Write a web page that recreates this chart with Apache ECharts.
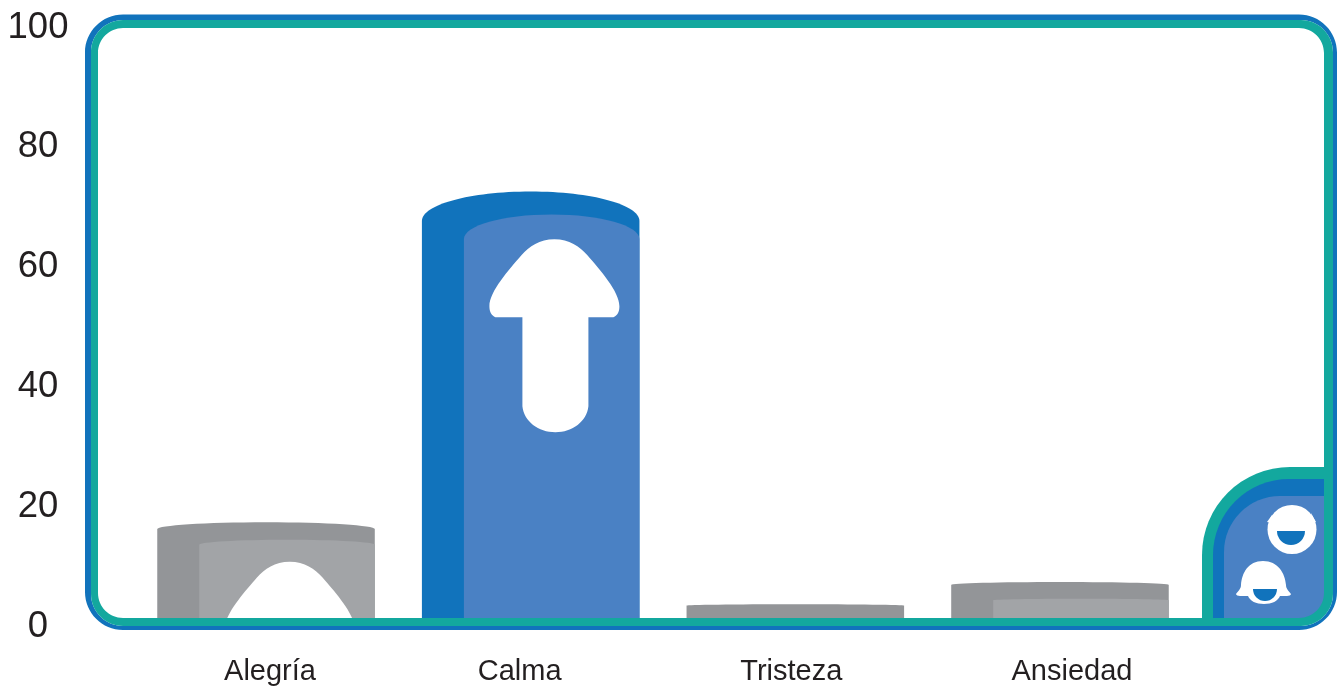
<!DOCTYPE html>
<html>
<head>
<meta charset="utf-8">
<title>Emociones</title>
<style>
html, body { margin: 0; padding: 0; background: #fff; }
#chart { width: 1340px; height: 688px; }
</style>
<script src="https://cdn.jsdelivr.net/npm/echarts@6/dist/echarts.min.js"></script>
</head>
<body>
<div id="chart"></div>
<script>
var categories = ['Alegría', 'Calma', 'Tristeza', 'Ansiedad'];
var values = [17, 72.2, 3.3, 7];
var yTicks = [0, 20, 40, 60, 80, 100];
var highlighted = 'Calma';

// the category labels do not sit under the middle of their bars in the original
var labelShift = [4, -11, -4, 12];

var BLUE = '#1173BC', BLUE_LIGHT = '#4A81C4';
var GREY = '#939598', GREY_LIGHT = '#A2A4A7';
var GREEN = '#13A89E';
var TEXT = '#231F20';
var FONT = '"Liberation Sans", Arial, sans-serif';

var ARROW = 'M65 0C50 0 40 7 32 16C20 30 0 52 0 67C0 73 2 76 6 78L33 78L33 167C34.5 182 49 193 66 193' +
    'C83 193 97.5 182 99 167L99 78L124 78C128 76 130 73 130 67C130 52 110 30 98 16C90 7 80 0 65 0Z';
var HELMET = 'M27 0C12 0 6 12 5 24C5 28 2 30 0 33C0 34 2 35 4 35L12 35C14 40 20 43 28 43C36 43 42 40 44 35' +
    'L51 35C53 35 55 34 55 33C53 30 50 28 50 24C49 12 42 0 27 0Z';

function capPath(w, h, cap) {
    return 'M0 ' + cap + 'C0 ' + cap * 0.45 + ' ' + w * 0.22 + ' 0 ' + w / 2 + ' 0' +
        'C' + w * 0.78 + ' 0 ' + w + ' ' + cap * 0.45 + ' ' + w + ' ' + cap +
        'L' + w + ' ' + h + 'L0 ' + h + 'Z';
}

function pathEl(d, x, y, w, h, fill) {
    return {
        type: 'path',
        shape: { pathData: d, x: x, y: y, width: w, height: h, layout: 'cover' },
        style: { fill: fill }
    };
}

function renderBar(params, api) {
    var top = api.coord([api.value(0), api.value(1)]);
    var base = api.coord([api.value(0), 0]);
    var w = api.size([1, 0])[0] * 0.822;
    var x = top[0] - w / 2;
    var h = base[1] - top[1];
    var isHi = categories[params.dataIndex] === highlighted;
    var children = [pathEl(capPath(w, h, h * 0.068), x, top[1], w, h, isHi ? BLUE : GREY)];

    var inset = 16 + h * 0.016;
    var ih = h - inset;
    if (ih > 0) {
        var iw = w - 42;
        children.push(pathEl(capPath(iw, ih, ih * 0.06), x + 42, top[1] + inset, iw, ih, isHi ? BLUE_LIGHT : GREY_LIGHT));
    }
    // arrow runs off the bottom of the shorter bars, clip:true cuts it at the axis
    children.push(pathEl(ARROW, x + 67.5, top[1] + 37 + h * 0.025, 130, 193, '#fff'));
    return { type: 'group', children: children };
}

function roundRect(x0, y0, x1, y1, r, reverse) {
    var k = r * 0.45;
    if (!reverse) {
        return 'M' + (x0 + r) + ' ' + y0 + 'L' + (x1 - r) + ' ' + y0 +
            'C' + (x1 - k) + ' ' + y0 + ' ' + x1 + ' ' + (y0 + k) + ' ' + x1 + ' ' + (y0 + r) +
            'L' + x1 + ' ' + (y1 - r) +
            'C' + x1 + ' ' + (y1 - k) + ' ' + (x1 - k) + ' ' + y1 + ' ' + (x1 - r) + ' ' + y1 +
            'L' + (x0 + r) + ' ' + y1 +
            'C' + (x0 + k) + ' ' + y1 + ' ' + x0 + ' ' + (y1 - k) + ' ' + x0 + ' ' + (y1 - r) +
            'L' + x0 + ' ' + (y0 + r) +
            'C' + x0 + ' ' + (y0 + k) + ' ' + (x0 + k) + ' ' + y0 + ' ' + (x0 + r) + ' ' + y0 + 'Z';
    }
    return 'M' + (x0 + r) + ' ' + y0 +
        'C' + (x0 + k) + ' ' + y0 + ' ' + x0 + ' ' + (y0 + k) + ' ' + x0 + ' ' + (y0 + r) +
        'L' + x0 + ' ' + (y1 - r) +
        'C' + x0 + ' ' + (y1 - k) + ' ' + (x0 + k) + ' ' + y1 + ' ' + (x0 + r) + ' ' + y1 +
        'L' + (x1 - r) + ' ' + y1 +
        'C' + (x1 - k) + ' ' + y1 + ' ' + x1 + ' ' + (y1 - k) + ' ' + x1 + ' ' + (y1 - r) +
        'L' + x1 + ' ' + (y0 + r) +
        'C' + x1 + ' ' + (y0 + k) + ' ' + (x1 - k) + ' ' + y0 + ' ' + (x1 - r) + ' ' + y0 + 'Z';
}

function ring(o, i, r0, r1, fill) {
    var d = roundRect(o[0], o[1], o[2], o[3], r0, false) + roundRect(i[0], i[1], i[2], i[3], r1, true);
    return pathEl(d, o[0], o[1], o[2] - o[0], o[3] - o[1], fill);
}

function tabRect(x, y, r0, r2, fill) {
    return {
        type: 'rect',
        shape: { x: x, y: y, width: 1330 - x, height: 622 - y, r: [r0, 0, r2, 0] },
        style: { fill: fill }
    };
}

function mouth(cx, cy, r) {
    return {
        type: 'sector',
        shape: { cx: cx, cy: cy, r: r, r0: 0, startAngle: 0, endAngle: Math.PI },
        style: { fill: BLUE }
    };
}

function renderFrame() {
    return {
        type: 'group',
        children: [
            tabRect(1202, 467, 88, 26, GREEN),
            tabRect(1213, 479, 76, 26, BLUE),
            tabRect(1224, 496, 56, 26, BLUE_LIGHT),
            { type: 'circle', shape: { cx: 1292, cy: 529.5, r: 24.5 }, style: { fill: '#fff' } },
            { type: 'polygon', shape: { points: [[1267, 522], [1272, 515], [1272, 523]] }, style: { fill: '#fff' } },
            { type: 'polygon', shape: { points: [[1316, 522], [1311, 513], [1312, 523]] }, style: { fill: '#fff' } },
            mouth(1291, 531, 14),
            pathEl(HELMET, 1236, 561, 55, 43, '#fff'),
            mouth(1265, 589, 12),
            ring([85, 14.5, 1337, 630], [91, 20, 1333, 626], 38, 32, BLUE),
            ring([91, 20, 1333, 626], [98, 28, 1324, 618], 32, 25, GREEN)
        ]
    };
}

var rich = {};
for (var i = 0; i < categories.length; i++) {
    var s = labelShift[i] * 2;
    rich['c' + i] = {
        fontFamily: FONT,
        fontSize: 29,
        color: TEXT,
        padding: s > 0 ? [0, 0, 0, s] : [0, -s, 0, 0]
    };
}

var chart = echarts.init(document.getElementById('chart'));
chart.setOption({
    animation: false,
    backgroundColor: '#fff',
    grid: { left: 133.7, right: 147.7, top: 25, bottom: 64 },
    xAxis: {
        type: 'category',
        data: categories,
        axisLine: { show: false },
        axisTick: { show: false },
        axisLabel: {
            interval: 0,
            margin: 33,
            formatter: function (v, idx) {
                return '{c' + idx + '|' + v + '}';
            },
            rich: rich
        }
    },
    yAxis: {
        type: 'value',
        min: yTicks[0],
        max: yTicks[yTicks.length - 1],
        interval: yTicks[1] - yTicks[0],
        splitLine: { show: false },
        axisLine: { show: false },
        axisTick: { show: false },
        axisLabel: {
            margin: 95.7,
            align: 'center',
            formatter: '{n|{value}}',
            rich: {
                n: { fontFamily: FONT, fontSize: 36.5, color: TEXT, padding: [5, 0, 0, 0] }
            }
        }
    },
    series: [
        {
            type: 'custom',
            name: 'bars',
            clip: true,
            silent: true,
            z: 2,
            renderItem: renderBar,
            encode: { x: 0, y: 1 },
            data: values.map(function (v, i) { return [i, v]; })
        },
        {
            type: 'custom',
            name: 'frame',
            coordinateSystem: 'none',
            silent: true,
            z: 5,
            renderItem: renderFrame,
            data: [[0]]
        }
    ]
});
</script>
</body>
</html>
